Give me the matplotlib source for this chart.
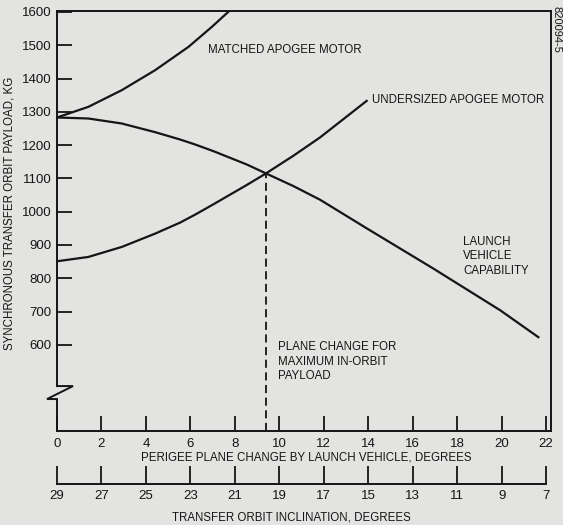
import matplotlib
matplotlib.use("Agg")
import matplotlib.pyplot as plt

plt.rcParams['font.family'] = ['Liberation Sans', 'DejaVu Sans']

# perigee plane change (deg) vs payload (kg)
matched_x = [0, 1.41, 2.91, 4.41, 5.91, 6.96, 7.78]
matched_y = [1283, 1315, 1365, 1425, 1495, 1555, 1605]

launch_x = [0, 1.41, 2.91, 4.41, 5.53, 6.21, 7.03, 8.53, 9.40, 10.63, 11.83,
            13.93, 16.93, 19.93, 21.65]
launch_y = [1283, 1280, 1265, 1239, 1217, 1202, 1182, 1142, 1115, 1077, 1036,
            950, 829, 704, 623]

under_x = [0, 1.41, 2.91, 4.41, 5.53, 6.21, 7.03, 8.53, 9.40, 10.63, 11.83, 13.93]
under_y = [851, 864, 894, 934, 967, 991, 1022, 1080, 1115, 1168, 1223, 1333]

optimum_x = 9.40
optimum_y = 1115

perigee_ticks = [0, 2, 4, 6, 8, 10, 12, 14, 16, 18, 20, 22]
inclination_labels = [29, 27, 25, 23, 21, 19, 17, 15, 13, 11, 9, 7]
payload_ticks = [600, 700, 800, 900, 1000, 1100, 1200, 1300, 1400, 1500, 1600]

bg = '#e3e3e1'
ink = '#151515'
W, H = 563, 525

fig = plt.figure(figsize=(W / 100, H / 100), dpi=100, facecolor=bg)
left, right, top, bottom = 57 / W, 551 / W, 1 - 11 / H, 1 - 431 / H
ax = fig.add_axes([left, bottom, right - left, top - bottom], facecolor=bg)

xmin, xmax = 0, 22.22
ymin, ymax = 341, 1603
ax.set_xlim(xmin, xmax)
ax.set_ylim(ymin, ymax)

lw = 1.6
ax.plot(matched_x, matched_y, color=ink, lw=lw)
ax.plot(launch_x, launch_y, color=ink, lw=lw)
ax.plot(under_x, under_y, color=ink, lw=lw)
ax.vlines(optimum_x, ymin, optimum_y, colors=ink, lw=1.3,
          linestyles=(0, (4.5, 2.5)))

# frame: left spine drawn by hand with the break zigzag
for s in ['top', 'right', 'bottom']:
    ax.spines[s].set_linewidth(1.4)
    ax.spines[s].set_color(ink)
ax.spines['left'].set_visible(False)
brk_hi, brk_lo = 476, 437
ax.plot([0, 0, 0.72, -0.45, 0, 0], [ymax, brk_hi, brk_hi, brk_lo, brk_lo, ymin],
        color=ink, lw=1.4, clip_on=False, solid_joinstyle='miter')

ax.set_xticks(perigee_ticks)
ax.set_yticks(payload_ticks)
ax.tick_params(axis='both', direction='in', length=11, width=1.3, color=ink,
               labelsize=9.5, labelcolor=ink, pad=5)
ax.tick_params(axis='y', pad=4)

txt = dict(fontsize=8.3, color=ink)
ax.text(6.79, 1485, 'MATCHED APOGEE MOTOR', va='center', **txt)
ax.text(14.17, 1335, 'UNDERSIZED APOGEE MOTOR', va='center', **txt)
ax.text(18.26, 928, 'LAUNCH\nVEHICLE\nCAPABILITY', va='top',
        linespacing=1.3, **txt)
ax.text(9.95, 612, 'PLANE CHANGE FOR\nMAXIMUM IN-ORBIT\nPAYLOAD', va='top',
        linespacing=1.3, **txt)

fig.text(306 / W, 1 - 457 / H, 'PERIGEE PLANE CHANGE BY LAUNCH VEHICLE, DEGREES',
         fontsize=8.3, color=ink, ha='center', va='center')
fig.text(10 / W, 1 - 213 / H, 'SYNCHRONOUS TRANSFER ORBIT PAYLOAD, KG',
         fontsize=8.3, color=ink, ha='center', va='center', rotation=90)
fig.text(556 / W, 1 - 6 / H, '820094-5', fontsize=8, color=ink,
         ha='center', va='top', rotation=-90)

# second scale: transfer orbit inclination
ax2 = fig.add_axes([left, 1 - 484 / H, right - left, 0.001], facecolor='none')
ax2.set_xlim(xmin, xmax)
ax2.set_yticks([])
for s in ['top', 'right', 'left']:
    ax2.spines[s].set_visible(False)
ax2.spines['bottom'].set_bounds(0, 22)
ax2.spines['bottom'].set_linewidth(1.4)
ax2.spines['bottom'].set_color(ink)
ax2.set_xticks(perigee_ticks)
ax2.set_xticklabels([str(v) for v in inclination_labels])
ax2.tick_params(axis='x', direction='in', length=13, width=1.3, color=ink,
                labelsize=9.5, labelcolor=ink, pad=4)
fig.text(291 / W, 1 - 518 / H, 'TRANSFER ORBIT INCLINATION, DEGREES',
         fontsize=8.3, color=ink, ha='center', va='center')

fig.savefig('out.png', dpi=100, facecolor=bg)
